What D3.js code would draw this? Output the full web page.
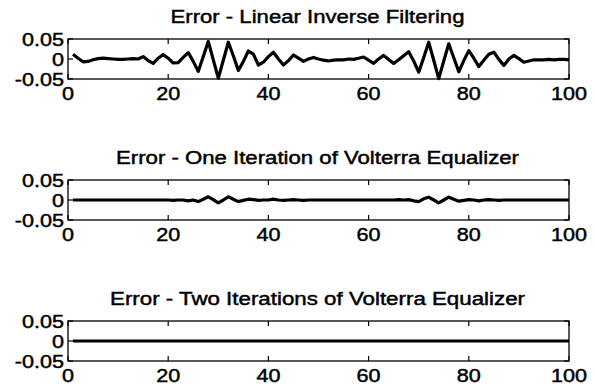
<!DOCTYPE html>
<html>
<head>
<meta charset="utf-8">
<script src="https://cdn.jsdelivr.net/npm/d3@7"></script>
<style>
  body { margin: 0; background: #fff; }
  text { font-family: "Liberation Sans", Arial, Helvetica, sans-serif; fill: #000; stroke: #000; stroke-width: 0.45px; }
</style>
</head>
<body>
<div id="chart"></div>
<script>
// panel titles
var titles = [
  "Error - Linear Inverse Filtering",
  "Error - One Iteration of Volterra Equalizer",
  "Error - Two Iterations of Volterra Equalizer"
];

// sample index 1..100
var samples = d3.range(1, 101);

// error of linear inverse filtering
var errLinear = [
  0.012, 0.002, -0.007, -0.006, -0.002, 0.001, 0.002, 0.001, 0.000, -0.001,
  -0.001, 0.000, 0.001, 0.000, 0.006, -0.004, -0.011, 0.002, 0.011, 0.002,
  -0.010, -0.009, 0.004, 0.016, -0.006, -0.031, 0.006, 0.044, -0.002, -0.048,
  -0.003, 0.042, 0.008, -0.029, -0.006, 0.020, 0.012, -0.015, -0.008, 0.006,
  0.017, 0.000, -0.015, -0.004, 0.010, 0.002, -0.006, 0.000, 0.004, 0.000,
  -0.003, -0.005, -0.003, -0.002, -0.002, 0.000, -0.001, 0.002, 0.005, -0.003,
  -0.011, 0.000, 0.009, -0.001, -0.011, -0.002, 0.008, 0.018, -0.005, -0.033,
  0.004, 0.042, -0.003, -0.049, -0.005, 0.038, 0.003, -0.032, -0.004, 0.021,
  0.002, -0.019, -0.003, 0.012, 0.017, -0.001, -0.016, 0.000, 0.009, 0.001,
  -0.008, -0.005, -0.002, -0.002, -0.002, -0.001, -0.002, -0.001, -0.001, -0.002
];

// error after one iteration of the volterra equalizer
var errOne = [
  0.000, 0.000, 0.000, 0.000, 0.000, 0.000, 0.000, 0.000, 0.000, 0.000,
  0.000, 0.000, 0.000, 0.000, 0.000, 0.000, 0.000, 0.000, 0.000, 0.000,
  -0.001, 0.000, 0.000, -0.002, 0.000, -0.004, 0.002, 0.008, 0.001, -0.007,
  0.000, 0.008, 0.002, -0.004, -0.001, 0.002, 0.001, -0.001, 0.000, 0.000,
  0.002, 0.000, -0.001, 0.000, 0.001, 0.000, -0.001, 0.000, 0.000, 0.000,
  0.000, 0.000, 0.000, 0.000, 0.000, 0.000, 0.000, 0.000, 0.000, 0.000,
  0.000, 0.000, 0.000, 0.000, 0.000, 0.001, 0.000, 0.001, -0.002, -0.004,
  0.003, 0.007, 0.000, -0.007, 0.000, 0.007, 0.002, -0.003, -0.001, 0.001,
  0.000, -0.002, 0.000, 0.001, 0.000, -0.001, 0.000, 0.000, 0.000, 0.000,
  0.000, 0.000, 0.000, 0.000, 0.000, 0.000, 0.000, 0.000, 0.000, 0.000
];

// error after two iterations (essentially flat)
var errTwo = [
  0.000, 0.000, 0.000, 0.000, 0.000, 0.000, 0.000, 0.000, 0.000, 0.000,
  0.000, 0.000, 0.000, 0.000, 0.000, 0.000, 0.000, 0.000, 0.000, 0.000,
  0.000, 0.000, 0.000, 0.000, 0.000, 0.000, 0.000, 0.000, 0.000, 0.000,
  0.000, 0.000, 0.000, 0.000, 0.000, 0.000, 0.000, 0.000, 0.000, 0.000,
  0.000, 0.000, 0.000, 0.000, 0.000, 0.000, 0.000, 0.000, 0.000, 0.000,
  0.000, 0.000, 0.000, 0.000, 0.000, 0.000, 0.000, 0.000, 0.000, 0.000,
  0.000, 0.000, 0.000, 0.000, 0.000, 0.000, 0.000, 0.000, 0.000, 0.000,
  0.000, 0.000, 0.000, 0.000, 0.000, 0.000, 0.000, 0.000, 0.000, 0.000,
  0.000, 0.000, 0.000, 0.000, 0.000, 0.000, 0.000, 0.000, 0.000, 0.000,
  0.000, 0.000, 0.000, 0.000, 0.000, 0.000, 0.000, 0.000, 0.000, 0.000
];

var series = [errLinear, errOne, errTwo];

// axis ticks
var xTicks = [0, 20, 40, 60, 80, 100];
var yTicks = [-0.05, 0, 0.05];
var yTickLabels = ["-0.05", "0", "0.05"];

// layout
var W = 595, H = 388;
var left = 68, right = 569;
var panelTop = [39, 180, 321];
var panelH = 40;
var titleWidth = [294, 403, 415];
var stretch = 1.2;   // the scanned figure is wider than plain Helvetica
var tickLen = 5;

var svg = d3.select("#chart").append("svg")
  .attr("width", W)
  .attr("height", H);

var x = d3.scaleLinear().domain([0, 100]).range([left, right]);

series.forEach(function(vals, i) {
  var top = panelTop[i];
  var y = d3.scaleLinear().domain([-0.05, 0.05]).range([top + panelH, top]);
  var g = svg.append("g");

  // the error trace
  var line = d3.line()
    .x(function(d) { return x(d[0]); })
    .y(function(d) { return y(d[1]); });
  g.append("path")
    .datum(samples.map(function(n, k) { return [n, vals[k]]; }))
    .attr("d", line)
    .attr("fill", "none")
    .attr("stroke", "#000")
    .attr("stroke-width", 3.2)
    .attr("stroke-linejoin", "round");

  // box
  g.append("rect")
    .attr("x", left).attr("y", top)
    .attr("width", right - left).attr("height", panelH)
    .attr("fill", "none").attr("stroke", "#000").attr("stroke-width", 1.3);

  // inward ticks, matlab style
  xTicks.forEach(function(t) {
    g.append("line").attr("x1", x(t)).attr("x2", x(t))
      .attr("y1", top + panelH).attr("y2", top + panelH - tickLen)
      .attr("stroke", "#000").attr("stroke-width", 1.2);
    g.append("line").attr("x1", x(t)).attr("x2", x(t))
      .attr("y1", top).attr("y2", top + tickLen)
      .attr("stroke", "#000").attr("stroke-width", 1.2);
    g.append("text")
      .attr("transform", "translate(" + x(t) + "," + (top + panelH + 21) + ") scale(" + stretch + ",1)")
      .attr("text-anchor", "middle")
      .style("font-size", "18px")
      .text(t);
  });
  yTicks.forEach(function(t, k) {
    g.append("line").attr("x1", left).attr("x2", left + tickLen)
      .attr("y1", y(t)).attr("y2", y(t))
      .attr("stroke", "#000").attr("stroke-width", 1.2);
    g.append("line").attr("x1", right).attr("x2", right - tickLen)
      .attr("y1", y(t)).attr("y2", y(t))
      .attr("stroke", "#000").attr("stroke-width", 1.2);
    g.append("text")
      .attr("transform", "translate(" + (left - 4) + "," + (y(t) + 6.5) + ") scale(" + stretch + ",1)")
      .attr("text-anchor", "end")
      .style("font-size", "18px")
      .text(yTickLabels[k]);
  });

  // title
  g.append("text")
    .attr("x", (left + right) / 2 - 1)
    .attr("y", top - 16.5)
    .attr("text-anchor", "middle")
    .attr("textLength", titleWidth[i])
    .attr("lengthAdjust", "spacingAndGlyphs")
    .style("font-size", "18px")
    .text(titles[i]);
});
</script>
</body>
</html>
